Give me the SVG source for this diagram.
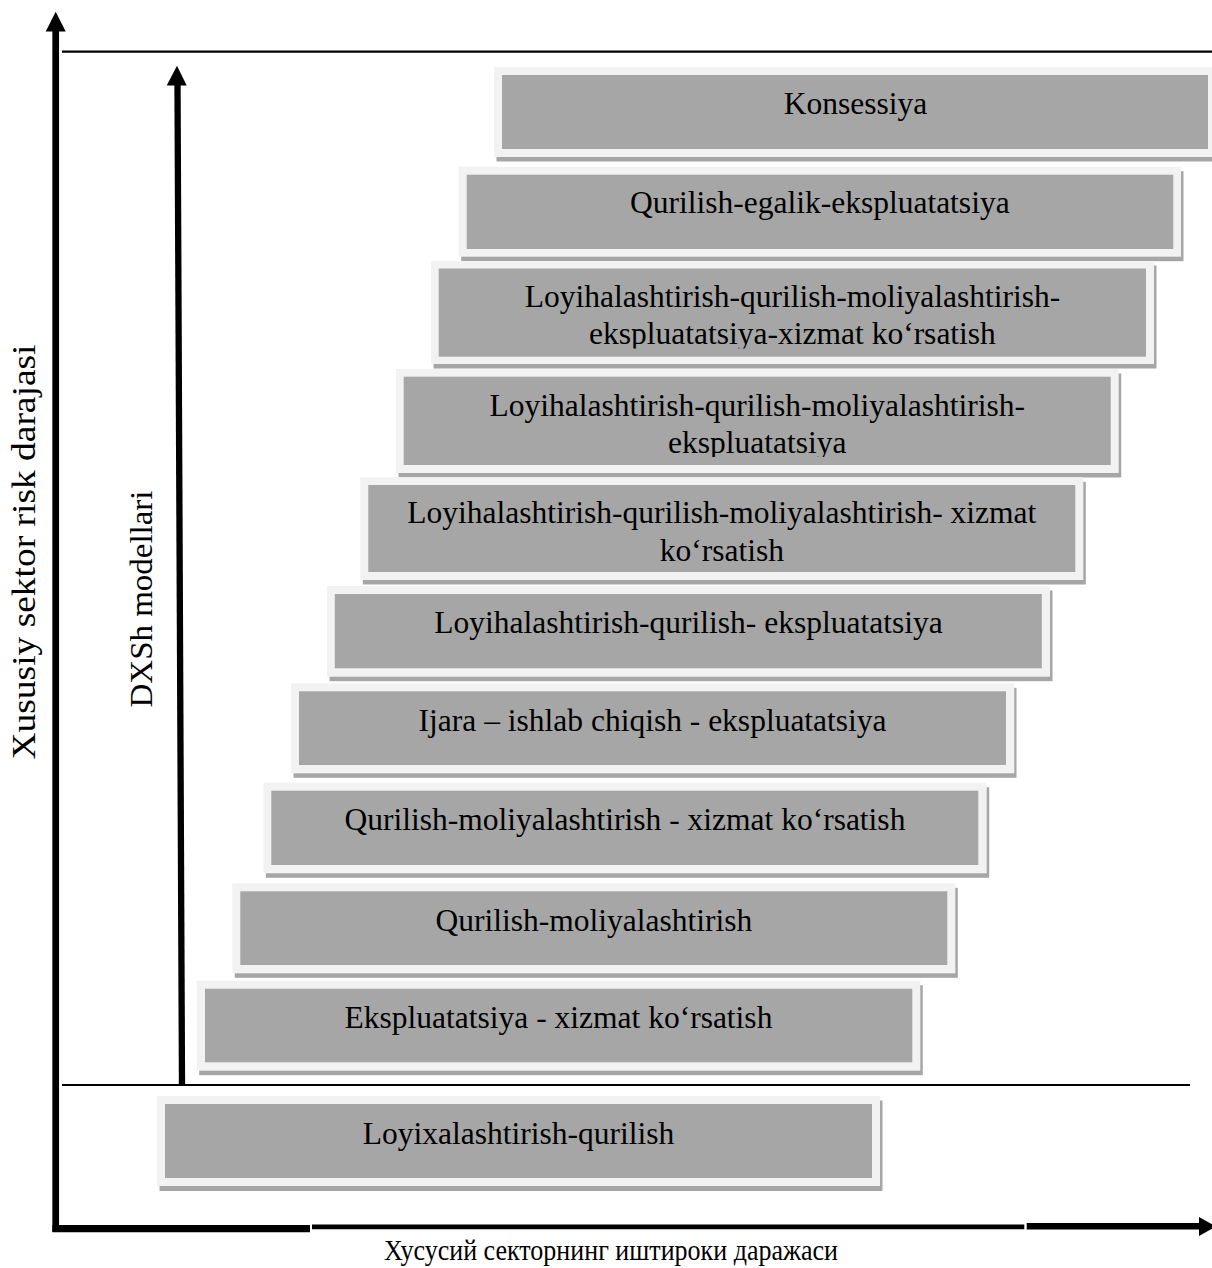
<svg xmlns="http://www.w3.org/2000/svg" width="1212" height="1268" viewBox="0 0 1212 1268">
<style>
.sh{fill:#a6a6a6}
.fr{fill:#f2f2f2}
.in{fill:#a6a6a6}
.t{font-family:"Liberation Serif","Times New Roman",serif;font-size:31.5px;fill:#000;text-anchor:middle}
.ax{stroke:#000;fill:none}
</style>
<defs>
  <clipPath id="c3"><rect x="431" y="261" width="723" height="87.5"/></clipPath>
  <clipPath id="c4"><rect x="396" y="369" width="723" height="88"/></clipPath>
</defs>
<rect width="1212" height="1268" fill="#fff"/>
<g id="connectors">
  <line class="ax" x1="62" y1="51.7" x2="1212" y2="51.7" stroke-width="2.2"/>
  <line class="ax" x1="62" y1="1085" x2="1190" y2="1085" stroke-width="2"/>
  <line class="ax" x1="55.7" y1="30" x2="55.7" y2="1232" stroke-width="6.7"/>
  <polygon points="55.7,11.7 45.7,31.5 65.7,31.5" fill="#000"/>
  <line class="ax" x1="177.5" y1="84" x2="182" y2="1085" stroke-width="6.3"/>
  <polygon points="177,65.7 166.7,85.5 186.7,85.5" fill="#000"/>
  <line class="ax" x1="52.4" y1="1228.6" x2="310" y2="1228.6" stroke-width="7.2"/>
  <line class="ax" x1="312" y1="1226.8" x2="1024.3" y2="1226.8" stroke-width="4.8"/>
  <line class="ax" x1="1026.7" y1="1226.2" x2="1202" y2="1226.2" stroke-width="6.6"/>
  <polygon points="1199,1217 1216,1226.5 1199,1236" fill="#000"/>
</g>
<g id="n1">
  <rect class="sh" x="496.5" y="71.5" width="723" height="90"/>
  <rect class="fr" x="494" y="67" width="723" height="90"/>
  <rect class="in" x="502" y="75" width="706" height="74"/>
  <text class="t" x="855.5" y="114">Konsessiya</text>
</g>
<g id="n2">
  <rect class="sh" x="461.2" y="171.2" width="722.3" height="90"/>
  <rect class="fr" x="458.7" y="166.7" width="722.3" height="90"/>
  <rect class="in" x="466.7" y="174.7" width="706.6" height="74.3"/>
  <text class="t" x="819.8" y="213.3">Qurilish-egalik-ekspluatatsiya</text>
</g>
<g id="n3">
  <rect class="sh" x="433.5" y="265.5" width="723" height="103"/>
  <rect class="fr" x="431" y="261" width="723" height="103"/>
  <rect class="in" x="438.7" y="268.5" width="707.3" height="88.2"/>
  <g clip-path="url(#c3)">
    <text class="t" x="792.5" y="306.7">Loyihalashtirish-qurilish-moliyalashtirish-</text>
    <text class="t" x="792.5" y="344.3">ekspluatatsiya-xizmat ko‘rsatish</text>
  </g>
</g>
<g id="n4">
  <rect class="sh" x="398.5" y="373.5" width="722.7" height="104"/>
  <rect class="fr" x="396" y="369" width="722.7" height="104"/>
  <rect class="in" x="403.7" y="376.7" width="707" height="88.3"/>
  <g clip-path="url(#c4)">
    <text class="t" x="757.3" y="415.7">Loyihalashtirish-qurilish-moliyalashtirish-</text>
    <text class="t" x="757.3" y="453.3">ekspluatatsiya</text>
  </g>
</g>
<g id="n5">
  <rect class="sh" x="362.8" y="481.8" width="723" height="102.7"/>
  <rect class="fr" x="360.3" y="477.3" width="723" height="102.7"/>
  <rect class="in" x="368.3" y="485" width="707" height="87"/>
  <text class="t" x="721.8" y="523.3">Loyihalashtirish-qurilish-moliyalashtirish- xizmat</text>
  <text class="t" x="721.8" y="560.9">ko‘rsatish</text>
</g>
<g id="n6">
  <rect class="sh" x="329.5" y="590.5" width="723" height="90.7"/>
  <rect class="fr" x="327" y="586" width="723" height="90.7"/>
  <rect class="in" x="334.8" y="594" width="707" height="74.3"/>
  <text class="t" x="688.5" y="632.7">Loyihalashtirish-qurilish- ekspluatatsiya</text>
</g>
<g id="n7">
  <rect class="sh" x="293.5" y="687.8" width="723" height="90"/>
  <rect class="fr" x="291" y="683.3" width="723.3" height="90"/>
  <rect class="in" x="299" y="691.3" width="707" height="73.7"/>
  <text class="t" x="652.6" y="731">Ijara – ishlab chiqish - ekspluatatsiya</text>
</g>
<g id="n8">
  <rect class="sh" x="265.8" y="787.2" width="723.4" height="90.6"/>
  <rect class="fr" x="263.3" y="782.7" width="723.4" height="90.6"/>
  <rect class="in" x="271.3" y="790.7" width="707" height="74.3"/>
  <text class="t" x="625" y="830">Qurilish-moliyalashtirish - xizmat ko‘rsatish</text>
</g>
<g id="n9">
  <rect class="sh" x="234.8" y="887.8" width="723" height="90"/>
  <rect class="fr" x="232.3" y="883.3" width="723" height="90"/>
  <rect class="in" x="240.3" y="891.3" width="707" height="73.7"/>
  <text class="t" x="593.8" y="930.7">Qurilish-moliyalashtirish</text>
</g>
<g id="n10">
  <rect class="sh" x="199.2" y="985.2" width="723.6" height="90"/>
  <rect class="fr" x="196.7" y="980.7" width="723.6" height="90"/>
  <rect class="in" x="205" y="988.7" width="707.3" height="73.6"/>
  <text class="t" x="558.5" y="1028.3">Ekspluatatsiya - xizmat ko‘rsatish</text>
</g>
<g id="n11">
  <rect class="sh" x="159.5" y="1100.5" width="723" height="90.5"/>
  <rect class="fr" x="157" y="1096" width="723" height="90"/>
  <rect class="in" x="165" y="1104" width="707" height="74"/>
  <text class="t" x="518.5" y="1143.5">Loyixalashtirish-qurilish</text>
</g>
<g id="labels">
  <text class="t" style="font-size:33px" transform="translate(35,552) rotate(-90)" textLength="415" lengthAdjust="spacingAndGlyphs">Xususiy sektor risk darajasi</text>
  <text class="t" style="font-size:32.5px" transform="translate(151.5,599) rotate(-90)" textLength="217" lengthAdjust="spacingAndGlyphs">DXSh modellari</text>
  <text class="t" style="font-size:29.5px" x="611" y="1260" textLength="454" lengthAdjust="spacingAndGlyphs">Хусусий секторнинг иштироки даражаси</text>
</g>
</svg>
